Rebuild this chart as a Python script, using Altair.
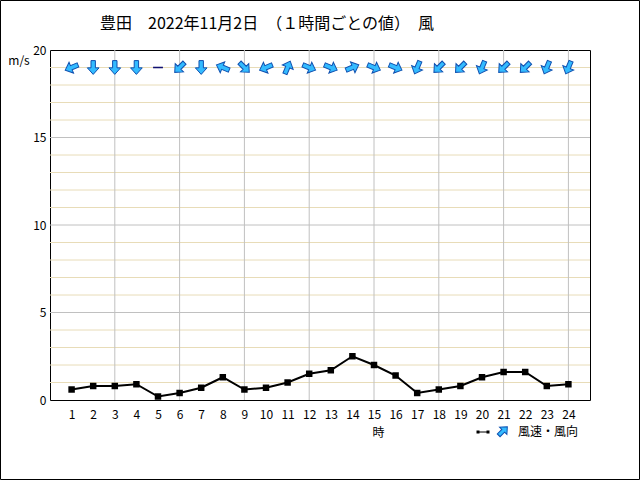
import altair as alt
import pandas as pd

# ---- data ----
hours = list(range(1, 25))
speed = [0.6, 0.8, 0.8, 0.9, 0.2, 0.4, 0.7, 1.3, 0.6, 0.7, 1.0, 1.5,
         1.7, 2.5, 2.0, 1.4, 0.4, 0.6, 0.8, 1.3, 1.6, 1.6, 0.8, 0.9]
direction = ["ENE", "N", "N", "N", "CALM", "NE", "N", "ESE", "NW", "ENE", "SSW", "WNW",
             "WNW", "WSW", "WNW", "WNW", "NNE", "NE", "NE", "NNE", "NE", "NE", "NNE", "NNE"]
x_ticks = list(range(1, 25))
y_ticks = [0, 5, 10, 15, 20]
minor_y = [v for v in range(1, 20) if v % 5 != 0]
major_y = [5, 10, 15]
major_x = [3, 6, 9, 12, 15, 18, 21, 24]
arrow_row = 19

title_text = "豊田　2022年11月2日　（１時間ごとの値）　風"

compass = {"N": 0, "NNE": 22.5, "NE": 45, "ENE": 67.5, "E": 90, "ESE": 112.5,
           "SE": 135, "SSE": 157.5, "S": 180, "SSW": 202.5, "SW": 225,
           "WSW": 247.5, "W": 270, "WNW": 292.5, "NW": 315, "NNW": 337.5}

FONT = "Noto Sans CJK JP"

df = pd.DataFrame({"hour": hours, "speed": speed, "dir": direction})
df["row"] = arrow_row
wind = df[df["dir"] != "CALM"].copy()
wind["rot"] = [(compass[d] + 180) % 360 for d in wind["dir"]]
calm = df[df["dir"] == "CALM"].copy()

xs = alt.Scale(domain=[0, 25], nice=False, zero=False)
ys = alt.Scale(domain=[0, 20], nice=False)

x_axis = alt.Axis(values=x_ticks, title="時", titleX=328, titleY=32,
                  titleBaseline="middle", titleAlign="center",
                  titleFont=FONT, titleFontSize=12, titleFontWeight="normal",
                  titleColor="black",
                  labelFont=FONT, labelFontSize=12, labelColor="black",
                  labelPadding=9, ticks=False, domain=False, grid=False)
y_axis = alt.Axis(values=y_ticks, title=None, labelFont=FONT, labelFontSize=12,
                  labelColor="black", labelPadding=4, ticks=False,
                  domain=False, grid=False)

X = lambda f: alt.X(f, scale=xs, axis=x_axis)
Y = lambda f: alt.Y(f, scale=ys, axis=y_axis)

ARROW = "M0,-1 L0.85,-0.05 L0.32,-0.05 L0.32,1 L-0.32,1 L-0.32,-0.05 L-0.85,-0.05 Z"
DASH = "M-0.9,-0.14 L0.9,-0.14 L0.9,0.14 L-0.9,0.14 Z"

base = alt.Chart(df)

minor = alt.Chart(pd.DataFrame({"v": minor_y})).mark_rule(
    color="#e8dcb8", strokeWidth=1).encode(y=Y("v:Q"))
major_h = alt.Chart(pd.DataFrame({"v": major_y})).mark_rule(
    color="#c0c0c0", strokeWidth=1).encode(y=Y("v:Q"))
major_v = alt.Chart(pd.DataFrame({"h": major_x})).mark_rule(
    color="#c0c0c0", strokeWidth=1).encode(x=X("h:Q"))

line = base.mark_line(color="black", strokeWidth=2).encode(
    x=X("hour:Q"), y=Y("speed:Q"))
points = base.mark_square(color="black", size=42, opacity=1).encode(
    x=X("hour:Q"), y=Y("speed:Q"))

arrows = alt.Chart(wind).mark_point(
    shape=ARROW, size=190, filled=True, fill="#33bbff", stroke="#1050b0",
    strokeWidth=1, opacity=1).encode(
    x=X("hour:Q"), y=Y("row:Q"),
    angle=alt.Angle("rot:Q", scale=None))
calm_marks = alt.Chart(calm).mark_point(
    shape=DASH, size=120, filled=True, fill="#101070", strokeWidth=0, opacity=1).encode(
    x=X("hour:Q"), y=Y("row:Q"))

one = pd.DataFrame({"a": [0]})
title = alt.Chart(one).mark_text(
    text=title_text, font=FONT, fontSize=16, align="left", baseline="middle",
    color="black").encode(x=alt.value(50), y=alt.value(-26))
unit = alt.Chart(one).mark_text(
    text="m/s", font=FONT, fontSize=12, align="center", baseline="middle",
    color="black").encode(x=alt.value(-31), y=alt.value(11))
leg_line = alt.Chart(one).mark_rule(color="black", strokeWidth=1).encode(
    x=alt.value(428), x2=alt.value(438), y=alt.value(382))
leg_dots = alt.Chart(pd.DataFrame({"px": [428, 438]})).mark_square(
    color="black", size=9, opacity=1).encode(
    x=alt.X("px:Q", scale=None), y=alt.value(382))
leg_arrow = alt.Chart(one).mark_point(
    shape=ARROW, size=150, filled=True, fill="#33bbff", stroke="#1050b0",
    strokeWidth=1, opacity=1, angle=45).encode(x=alt.value(453), y=alt.value(381))
leg_text = alt.Chart(one).mark_text(
    text="風速・風向", font=FONT, fontSize=12, align="left", baseline="middle",
    color="black").encode(x=alt.value(468), y=alt.value(382))
frame = alt.Chart(one).mark_rect(
    fillOpacity=0, stroke="black", strokeWidth=1).encode(
    x=alt.value(-49.5), x2=alt.value(589.5), y=alt.value(-49.5), y2=alt.value(429.5))

chart = alt.layer(
    minor, major_h, major_v, line, points, arrows, calm_marks,
    title, unit, leg_line, leg_dots, leg_arrow, leg_text, frame
).properties(
    width=540, height=350,
    autosize=alt.AutoSizeParams(type="none"),
    padding={"left": 50, "top": 50, "right": 50, "bottom": 80},
    background="white",
).configure_view(stroke="black", strokeWidth=1)

chart.save("out.html", embed_options={"renderer": "svg", "actions": False})
